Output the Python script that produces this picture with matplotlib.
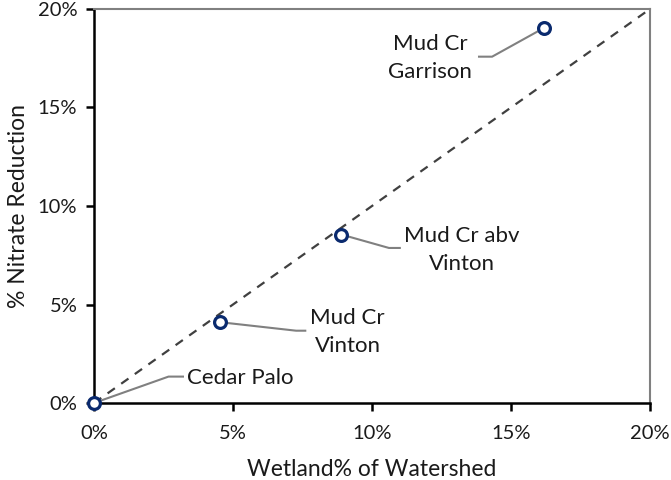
import matplotlib
matplotlib.use("Agg")
import matplotlib.pyplot as plt
from matplotlib.ticker import FuncFormatter, MultipleLocator

plt.rcParams['font.family'] = ['Lato', 'DejaVu Sans']

# Data (percent)
site_names = ["Cedar Palo", "Mud Cr\nVinton", "Mud Cr abv\nVinton", "Mud Cr\nGarrison"]
wetland_pct = [0.0, 4.55, 8.9, 16.2]
nitrate_red_pct = [0.0, 4.1, 8.55, 19.05]
ref_line_x = [0, 20]
ref_line_y = [0, 20]
tick_vals = [0, 5, 10, 15, 20]

# label text positions (data coords) and elbow points
label_pos = [(3.35, 1.25), (9.12, 3.6), (13.24, 7.75), (12.1, 17.5)]
label_ha = ["left", "center", "center", "center"]
elbow_start = [(3.2, 1.34), (7.6, 3.67), (11.0, 7.87), (13.85, 17.58)]
elbow_end = [(2.68, 1.34), (7.27, 3.67), (10.61, 7.87), (14.32, 17.58)]

fig = plt.figure(figsize=(6.71, 4.80), dpi=100)
ax = fig.add_axes([94/671, 1 - 403/480, 556/671, 394/480])

ax.plot(ref_line_x, ref_line_y, linestyle=(0, (4, 3.5)), color="#404040", lw=1.6, zorder=2)

for (px, py), (ex, ey), (sx, sy) in zip(zip(wetland_pct, nitrate_red_pct), elbow_end, elbow_start):
    ax.plot([px, ex, sx], [py, ey, sy], color="#808080", lw=1.5, zorder=2)

ax.plot(wetland_pct, nitrate_red_pct, linestyle="none", marker="o", markersize=8.5,
        markerfacecolor="white", markeredgecolor="#0a2a6e", markeredgewidth=2.3, zorder=4,
        clip_on=False)

for name, (lx, ly), ha in zip(site_names, label_pos, label_ha):
    ax.text(lx, ly, name, ha=ha, va="center", fontsize=16, color="#1a1a1a",
            linespacing=1.5, zorder=5)

ax.set_xlim(0, 20)
ax.set_ylim(0, 20)
ax.xaxis.set_major_locator(MultipleLocator(5))
ax.yaxis.set_major_locator(MultipleLocator(5))
fmt = FuncFormatter(lambda v, p: f"{v:.0f}%")
ax.xaxis.set_major_formatter(fmt)
ax.yaxis.set_major_formatter(fmt)
ax.set_xticks(tick_vals)
ax.set_yticks(tick_vals)

for s in ["left", "bottom"]:
    ax.spines[s].set_color("black")
    ax.spines[s].set_linewidth(1.8)
for s in ["top", "right"]:
    ax.spines[s].set_color("#808080")
    ax.spines[s].set_linewidth(1.5)

ax.tick_params(axis="both", direction="out", length=6, width=1.8, color="black",
               labelsize=14.5, labelcolor="#1a1a1a")
ax.tick_params(axis="x", pad=10)
ax.tick_params(axis="y", pad=6)

ax.set_xlabel("Wetland% of Watershed", fontsize=16.5, color="#1a1a1a", labelpad=12)
ax.set_ylabel("% Nitrate Reduction", fontsize=16.5, color="#1a1a1a", labelpad=6)

fig.savefig("out.png", dpi=100)
